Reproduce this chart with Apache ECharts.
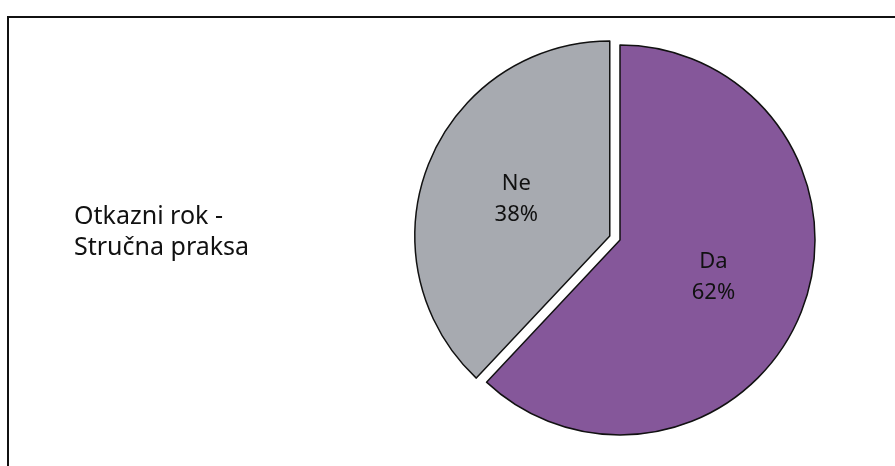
<!DOCTYPE html>
<html>
<head>
<meta charset="utf-8">
<script src="https://cdn.jsdelivr.net/npm/echarts@6/dist/echarts.min.js"></script>
<style>
  html, body { margin: 0; padding: 0; background: #fff; }
  #chart { width: 895px; height: 466px; }
</style>
</head>
<body>
<div id="chart"></div>
<script>
// data
var categories = ['Da', 'Ne'];
var values = [62, 38];
var colors = ['#85579a', '#a7aab0'];
var chartTitle = 'Otkazni rok -\nStručna praksa';

var myChart = echarts.init(document.getElementById('chart'));

var pieData = categories.map(function (name, i) {
    return {
        name: name,
        value: values[i],
        selected: name === 'Ne',
        itemStyle: { color: colors[i] }
    };
});

var option = {
    animation: false,
    backgroundColor: '#fff',
    title: {
        text: chartTitle,
        left: 69,
        top: 196,
        textStyle: {
            fontFamily: 'Noto Sans',
            fontWeight: 'normal',
            fontSize: 25,
            lineHeight: 31,
            color: '#111'
        }
    },
    graphic: [
        {
            type: 'rect',
            shape: { x: 8, y: 17, width: 1000, height: 1000 },
            style: { fill: 'none', stroke: '#111', lineWidth: 2 },
            silent: true
        }
    ],
    series: [
        {
            type: 'pie',
            center: [620, 240],
            radius: 195,
            startAngle: 90,
            clockwise: true,
            selectedMode: 'single',
            selectedOffset: 11,
            itemStyle: {
                borderColor: '#111',
                borderWidth: 1.5
            },
            select: {
                itemStyle: { borderColor: '#111', borderWidth: 1.5 }
            },
            label: {
                position: 'inside',
                formatter: '{b}\n{d}%',
                fontFamily: 'Noto Sans',
                fontSize: 22,
                lineHeight: 31,
                padding: [12, 0, 0, 0],
                color: '#111'
            },
            labelLine: { show: false },
            data: pieData
        }
    ]
};

myChart.setOption(option);
</script>
</body>
</html>
